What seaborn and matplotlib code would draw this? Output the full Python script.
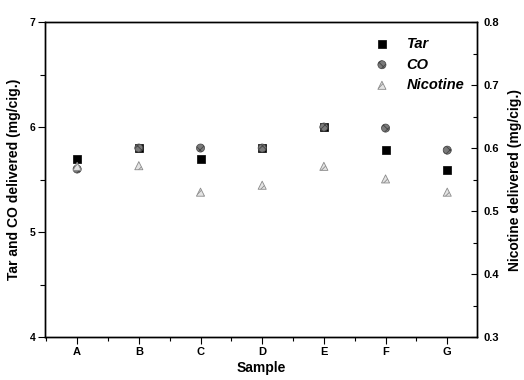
import matplotlib
matplotlib.use("Agg")
import matplotlib.pyplot as plt
import seaborn as sns
import pandas as pd
from matplotlib.ticker import MultipleLocator, FixedLocator

sns.set_style("white")
plt.rcParams['font.family'] = ['Liberation Sans', 'DejaVu Sans']
plt.rcParams['hatch.linewidth'] = 0.6
plt.rcParams['text.color'] = 'black'
plt.rcParams['axes.labelcolor'] = 'black'
plt.rcParams['xtick.color'] = 'black'
plt.rcParams['ytick.color'] = 'black'

samples = ["A", "B", "C", "D", "E", "F", "G"]
tar = [5.70, 5.80, 5.70, 5.80, 6.00, 5.78, 5.59]
co = [5.60, 5.80, 5.80, 5.80, 6.00, 5.99, 5.78]
nicotine = [0.571, 0.572, 0.530, 0.541, 0.571, 0.551, 0.530]

df = pd.DataFrame({"Sample": samples, "Tar": tar, "CO": co, "Nicotine": nicotine})

fig = plt.figure(figsize=(5.24, 3.8), dpi=100)
ax = fig.add_axes([0.086, 0.113, 0.824, 0.829])
ax2 = ax.twinx()

sns.scatterplot(data=df, x="Sample", y="Tar", ax=ax, marker="s", s=30,
                color="black", edgecolor="black", linewidth=0.5,
                label="Tar", legend=False, zorder=3)
sns.scatterplot(data=df, x="Sample", y="CO", ax=ax, marker="o", s=34,
                color="#7a7a7a", edgecolor="#444444", linewidth=0.5,
                hatch="xxxx", label="CO", legend=False, zorder=4)
sns.scatterplot(data=df, x="Sample", y="Nicotine", ax=ax2, marker="^", s=34,
                color="#e4e4e4", edgecolor="#8a8a8a", linewidth=0.6,
                hatch="////", label="Nicotine", legend=False, zorder=3)

ax.set_xlim(-0.52, 6.48)
ax.set_ylim(4, 7)
ax2.set_ylim(0.3, 0.8)

ax.yaxis.set_major_locator(MultipleLocator(1))
ax.yaxis.set_minor_locator(MultipleLocator(0.5))
ax2.yaxis.set_major_locator(MultipleLocator(0.1))
ax2.yaxis.set_minor_locator(MultipleLocator(0.05))
ax.xaxis.set_minor_locator(FixedLocator([i + 0.5 for i in range(-1, 7)]))

ax.tick_params(axis="y", which="major", direction="out", length=5, width=0.8,
               labelsize=7.5, pad=2, left=True)
ax.tick_params(axis="y", which="minor", direction="out", length=3.5, width=0.8, left=True)
ax.tick_params(axis="x", which="major", direction="out", length=5, width=0.8,
               labelsize=8, pad=2, bottom=True)
ax.tick_params(axis="x", which="minor", direction="out", length=3, width=0.8, bottom=True)
ax2.tick_params(axis="y", which="major", direction="in", length=4, width=0.8,
                labelsize=8, pad=5, right=True)
ax2.tick_params(axis="y", which="minor", direction="in", length=3, width=0.8, right=True)

for lab in ax.get_xticklabels() + ax.get_yticklabels() + ax2.get_yticklabels():
    lab.set_fontweight("bold")

ax.set_xlabel("Sample", fontsize=10, fontweight="bold", labelpad=3)
ax.set_ylabel("Tar and CO delivered (mg/cig.)", fontsize=10, fontweight="bold", labelpad=6)
ax2.set_ylabel("Nicotine delivered (mg/cig.)", fontsize=10, fontweight="bold", labelpad=6)

for a in (ax, ax2):
    for sp in a.spines.values():
        sp.set_color("black")
        sp.set_linewidth(1.0)

h1, l1 = ax.get_legend_handles_labels()
h2, l2 = ax2.get_legend_handles_labels()
handles = {l: h for h, l in zip(h1 + h2, l1 + l2)}
order = ["Tar", "CO", "Nicotine"]
leg = ax2.legend([handles[k] for k in order], order, loc="upper right",
                 bbox_to_anchor=(0.995, 0.985), frameon=False,
                 prop={"weight": "bold", "style": "italic", "size": 10.5},
                 handletextpad=0.7, labelspacing=0.45, borderaxespad=0.3)

fig.savefig("out.png", dpi=100)
